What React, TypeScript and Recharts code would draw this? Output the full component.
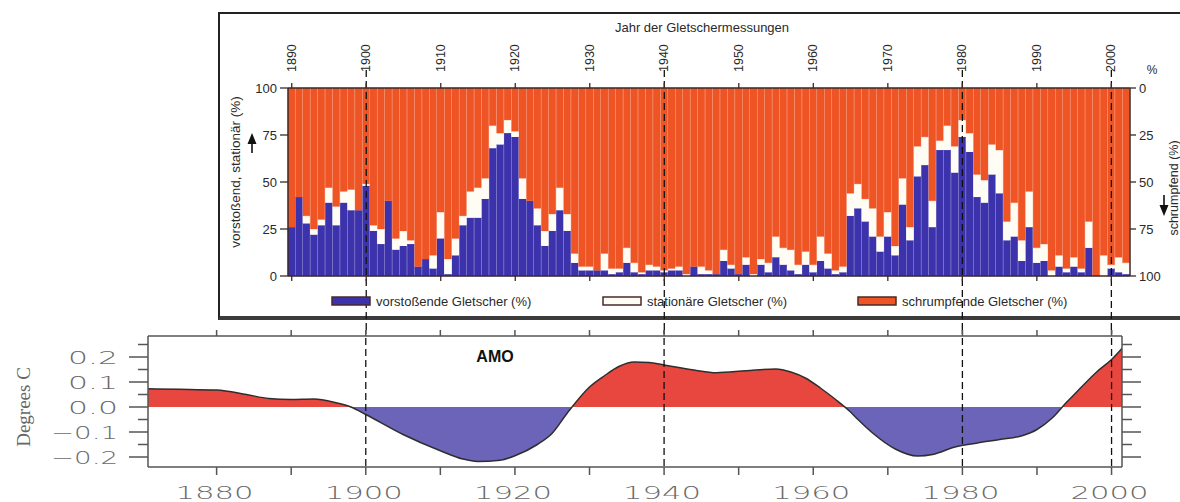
import React from "react";
import { ComposedChart, Bar, Line, XAxis, YAxis, ReferenceLine, AreaChart, Area } from "recharts";

// glacier measurements, one bar per year from 1890
const firstYear = 1890;
const advancing = [
  26, 42, 28, 22, 27, 39, 27, 39, 35, 35,
  48, 24, 17, 40, 14, 16, 17, 5, 9, 4,
  20, 1, 11, 27, 31, 31, 41, 68, 70, 76,
  74, 41, 40, 27, 16, 24, 35, 24, 7, 3,
  3, 3, 3, 1, 2, 7, 2, 1, 3, 3,
  2, 3, 3, 0, 5, 1, 1, 1, 8, 4,
  1, 6, 0, 6, 2, 10, 6, 3, 1, 6,
  2, 8, 4, 1, 2, 32, 36, 29, 21, 13,
  21, 11, 38, 19, 53, 59, 26, 67, 67, 55,
  74, 66, 42, 39, 54, 44, 19, 21, 8, 26,
  7, 8, 0, 5, 2, 5, 2, 15, 0, 0,
  4, 2, 1,
];
const stationary = [
  0, 0, 4, 3, 3, 8, 10, 6, 11, 0,
  1, 3, 8, 0, 6, 8, 2, 0, 0, 7,
  14, 8, 9, 5, 14, 16, 11, 12, 6, 7,
  3, 11, 0, 9, 8, 9, 12, 9, 5, 2,
  2, 0, 9, 3, 2, 8, 5, 1, 3, 2,
  1, 1, 2, 1, 0, 4, 2, 0, 6, 2,
  0, 4, 1, 3, 5, 11, 9, 11, 5, 7,
  4, 13, 8, 2, 3, 12, 13, 12, 15, 8,
  13, 5, 14, 7, 16, 15, 14, 5, 13, 14,
  9, 10, 12, 12, 16, 23, 10, 18, 11, 19,
  8, 9, 3, 6, 2, 5, 2, 14, 0, 11,
  2, 8, 6,
];
const decadeTicks = [1890, 1900, 1910, 1920, 1930, 1940, 1950, 1960, 1970, 1980, 1990, 2000];
const pctTicks = [0, 25, 50, 75, 100];
const markerYears = [1900, 1940, 1980, 2000];

// AMO smoothed index
const amoYears = [
  1870, 1875, 1880, 1884, 1887, 1890, 1893, 1896, 1898, 1900,
  1905, 1910, 1913, 1915, 1918, 1920, 1923, 1925, 1927, 1930,
  1932, 1934, 1936, 1938, 1940, 1944, 1947, 1951, 1955, 1957,
  1959, 1961, 1963, 1965, 1966, 1968, 1971, 1974, 1976, 1979,
  1982, 1985, 1988, 1990, 1992, 1994, 1995, 1998, 2000, 2002,
];
const amoValues = [
  0.073, 0.071, 0.068, 0.05, 0.034, 0.03, 0.032, 0.017, 0.0, -0.03,
  -0.11, -0.175, -0.208, -0.218, -0.213, -0.195, -0.15, -0.105, -0.025, 0.08,
  0.125, 0.163, 0.18, 0.178, 0.168, 0.148, 0.137, 0.145, 0.152, 0.14,
  0.115, 0.075, 0.03, -0.02, -0.05, -0.105, -0.168, -0.196, -0.19, -0.16,
  -0.144, -0.13, -0.115, -0.09, -0.045, 0.02, 0.05, 0.14, 0.19, 0.255,
];
const amoTicksX = [1880, 1890, 1900, 1910, 1920, 1930, 1940, 1950, 1960, 1970, 1980, 1990, 2000];
const amoTicksY = [-0.2, -0.15, -0.1, -0.05, 0, 0.05, 0.1, 0.15, 0.2, 0.25];

const glacierData = advancing.map((adv, i) => ({
  year: firstYear + i,
  adv,
  stat: stationary[i],
  shrink: 100 - adv - stationary[i],
}));
const amoData = amoYears.map((year, i) => ({ year, amo: amoValues[i] }));

const AX = "#3a2b27";
const BLUE = "#3c33ac";
const WHITE = "#fffcf4";
const ORANGE = "#ef5425";
const AMO_RED = "#e8473f";
const AMO_BLUE = "#6c64b8";
const SANS = "'Liberation Sans', Arial, sans-serif";
const GREY = "#555";
const LABEL_GREY = "#6a6a6a";
const WIDE = "'DejaVu Sans', sans-serif";

function TopYearTick(props: any) {
  const { x, y, payload } = props;
  const ly = y - 16;
  return (
    <g>
      <line x1={x} y1={y} x2={x} y2={y - 5} stroke={AX} strokeWidth={1.3} />
      <text x={x} y={ly} transform={`rotate(-90 ${x} ${ly})`} textAnchor="start"
        dominantBaseline="central" fontSize={12.5} fontFamily={SANS} fill="#2a2a2a">
        {payload.value}
      </text>
    </g>
  );
}

function BottomYearTick(props: any) {
  const { x, y } = props;
  return <line x1={x} y1={y} x2={x} y2={y + 5} stroke={AX} strokeWidth={1.3} />;
}

function LeftPctTick(props: any) {
  const { x, y, payload } = props;
  return (
    <g>
      <line x1={x - 8} y1={y} x2={x} y2={y} stroke={AX} strokeWidth={1.3} />
      <text x={x - 11} y={y} textAnchor="end" dominantBaseline="central" fontSize={13}
        fontFamily={SANS} fill="#2a2a2a">{payload.value}</text>
    </g>
  );
}

function RightPctTick(props: any) {
  const { x, y, payload } = props;
  return (
    <g>
      <line x1={x} y1={y} x2={x + 6} y2={y} stroke={AX} strokeWidth={1.3} />
      <text x={x + 9} y={y} textAnchor="start" dominantBaseline="central" fontSize={13}
        fontFamily={SANS} fill="#2a2a2a">{payload.value}</text>
    </g>
  );
}

const isTenth = (v: number) => Math.abs(Math.round(v * 10) - v * 10) < 1e-6;
const fmtAmo = (v: number) => (Math.abs(v) < 1e-9 ? "0.0" : v < 0 ? "\u2212" + Math.abs(v).toFixed(1) : v.toFixed(1));

function AmoLeftTick(props: any) {
  const { x, y, payload } = props;
  const major = isTenth(payload.value);
  const neg = payload.value < -1e-9;
  return (
    <g>
      <line x1={x - (major ? 19 : 10)} y1={y} x2={x} y2={y} stroke={GREY} strokeWidth={1.5} />
      {major && payload.value < 0.21 ? (
        <text x={x - 30} y={y} textAnchor="end" dominantBaseline="central" fontSize={18}
          fontWeight={200} textLength={neg ? 67 : 50} lengthAdjust="spacingAndGlyphs"
          fontFamily={WIDE} fill={LABEL_GREY}>
          {fmtAmo(payload.value)}
        </text>
      ) : null}
    </g>
  );
}

function AmoRightTick(props: any) {
  const { x, y, payload } = props;
  const major = isTenth(payload.value);
  return <line x1={x} y1={y} x2={x + (major ? 19 : 10)} y2={y} stroke={GREY} strokeWidth={1.5} />;
}

function AmoBottomTick(props: any) {
  const { x, y, payload } = props;
  return (
    <g>
      <line x1={x} y1={y} x2={x} y2={y + 8} stroke={GREY} strokeWidth={1.5} />
      {payload.value % 20 === 0 ? (
        <text x={x - 2} y={y + 32} textAnchor="middle" fontSize={18} fontWeight={200} textLength={78}
          lengthAdjust="spacingAndGlyphs" fontFamily={WIDE} fill={LABEL_GREY}>{payload.value}</text>
      ) : null}
    </g>
  );
}

function AmoTopTick(props: any) {
  const { x, y } = props;
  return <line x1={x} y1={y} x2={x} y2={y - 6} stroke={GREY} strokeWidth={1.5} />;
}

// dashed marker that runs past the plot so both panels join up
const dashTop = (p: any) => (
  <line x1={p.x1} x2={p.x2} y1={Math.min(p.y1, p.y2) - 18} y2={Math.max(p.y1, p.y2) + 80}
    stroke="#111" strokeWidth={1.3} strokeDasharray="7 4" />
);
const dashBottom = (p: any) => (
  <line x1={p.x1} x2={p.x2} y1={Math.min(p.y1, p.y2) - 20} y2={Math.max(p.y1, p.y2)}
    stroke="#111" strokeWidth={1.3} strokeDasharray="7 4" />
);

const maxAmo = Math.max(...amoValues);
const minAmo = Math.min(...amoValues);
const zeroOffset = maxAmo / (maxAmo - minAmo);

function LegendItem({ x, color, label }: { x: number; color: string; label: string }) {
  return (
    <g>
      <rect x={x} y={297} width={38} height={8} fill={color} stroke="#4a2a2a" strokeWidth={1.5} />
      <text x={x + 44} y={301} dominantBaseline="central" fontSize={13} fontFamily={SANS} fill="#2a2a2a">
        {label}
      </text>
    </g>
  );
}

export default function App() {
  return (
    <div style={{ position: "absolute", left: 0, top: 0, width: 1180, height: 502, overflow: "hidden", background: "#fff" }}>
      <div style={{ position: "absolute", left: 218, top: 12, width: 1000, height: 302, border: "2px solid #222", borderBottom: "4px solid #3c3c3c" }} />
      <div style={{ position: "absolute", left: 0, top: 0 }}>
        <ComposedChart width={1180} height={330} data={glacierData} barCategoryGap={0} barGap={0}
          margin={{ top: 70, right: 10, bottom: 44, left: 248 }}>
          <XAxis xAxisId="top" dataKey="year" orientation="top" ticks={decadeTicks} interval={0}
            height={18} tickSize={0} tickMargin={0} tickLine={false}
            axisLine={{ stroke: AX, strokeWidth: 1.5 }} tick={<TopYearTick />} />
          <XAxis xAxisId="bottom" dataKey="year" orientation="bottom" ticks={decadeTicks} interval={0}
            height={10} tickSize={0} tickMargin={0} tickLine={false}
            axisLine={{ stroke: AX, strokeWidth: 1.5 }} tick={<BottomYearTick />} />
          <YAxis yAxisId="left" domain={[0, 100]} ticks={pctTicks} interval={0} width={40}
            tickSize={0} tickMargin={0} tickLine={false} axisLine={{ stroke: AX, strokeWidth: 1.5 }}
            tick={<LeftPctTick />} />
          <YAxis yAxisId="right" orientation="right" reversed domain={[0, 100]} allowDataOverflow
            ticks={pctTicks} interval={0} width={40} tickSize={0} tickMargin={0} tickLine={false}
            axisLine={{ stroke: AX, strokeWidth: 1.5 }} tick={<RightPctTick />} />
          <Bar xAxisId="top" yAxisId="left" dataKey="adv" stackId="g" fill={BLUE}
            stroke={BLUE} strokeWidth={0.3} isAnimationActive={false} />
          <Bar xAxisId="top" yAxisId="left" dataKey="stat" stackId="g" fill={WHITE}
            isAnimationActive={false} />
          <Bar xAxisId="top" yAxisId="left" dataKey="shrink" stackId="g" fill={ORANGE}
            stroke={ORANGE} strokeWidth={0.3} isAnimationActive={false} />
          {/* shrinking share read on the inverted right scale; invisible, keeps that axis live */}
          <Line xAxisId="top" yAxisId="right" dataKey="shrink" stroke="none" dot={false}
            activeDot={false} isAnimationActive={false} />
          {markerYears.map((yr) => (
            <ReferenceLine key={yr} xAxisId="top" yAxisId="left" x={yr} shape={dashTop} />
          ))}
        </ComposedChart>
      </div>
      <div style={{ position: "absolute", left: 0, top: 330 }}>
        <AreaChart width={1180} height={172} data={amoData}
          margin={{ top: 0, right: 38, bottom: 0, left: 0 }}>
          <defs>
            <linearGradient id="amoSplit" x1="0" y1="0" x2="0" y2="1">
              <stop offset={zeroOffset} stopColor={AMO_RED} />
              <stop offset={zeroOffset} stopColor={AMO_BLUE} />
            </linearGradient>
          </defs>
          <XAxis xAxisId="b" dataKey="year" type="number" domain={[1870.8, 2001.4]} allowDataOverflow
            ticks={amoTicksX} interval={0} height={35} tickSize={0} tickMargin={0} tickLine={false}
            axisLine={{ stroke: GREY, strokeWidth: 1.5 }} tick={<AmoBottomTick />} />
          <XAxis xAxisId="t" dataKey="year" type="number" orientation="top" domain={[1870.8, 2001.4]}
            allowDataOverflow ticks={amoTicksX} interval={0} height={6} tickSize={0} tickMargin={0}
            tickLine={false} axisLine={{ stroke: GREY, strokeWidth: 1.5 }} tick={<AmoTopTick />} />
          <YAxis yAxisId="l" domain={[-0.24, 0.284]} allowDataOverflow ticks={amoTicksY} interval={0}
            width={148} tickSize={0} tickMargin={0} tickLine={false}
            axisLine={{ stroke: GREY, strokeWidth: 1.5 }} tick={<AmoLeftTick />} />
          <YAxis yAxisId="r" orientation="right" domain={[-0.24, 0.284]} allowDataOverflow ticks={amoTicksY}
            interval={0} width={20} tickSize={0} tickMargin={0} tickLine={false}
            axisLine={{ stroke: GREY, strokeWidth: 1.5 }} tick={<AmoRightTick />} />
          <Area xAxisId="b" yAxisId="l" type="monotone" dataKey="amo" stroke="#2e2e2e" strokeWidth={1.5}
            fill="url(#amoSplit)" fillOpacity={1} isAnimationActive={false} />
          {markerYears.map((yr) => (
            <ReferenceLine key={yr} xAxisId="b" yAxisId="l" x={yr} shape={dashBottom} />
          ))}
        </AreaChart>
      </div>
      <svg width={1180} height={502} style={{ position: "absolute", left: 0, top: 0, pointerEvents: "none" }}>
        <text x={702} y={27} textAnchor="middle" dominantBaseline="central" fontSize={13} fontFamily={SANS} fill="#2a2a2a">
          Jahr der Gletschermessungen
        </text>
        <text x={235} y={172} transform="rotate(-90 235 172)" textAnchor="middle" dominantBaseline="central"
          fontSize={13.5} fontFamily={SANS} fill="#2a2a2a">vorstoßend, stationär (%)</text>
        <path d="M252 153 L252 142" stroke="#111" strokeWidth={1.6} />
        <path d="M247.5 144 L256.5 144 L252 133 Z" fill="#111" />
        <text x={1152} y={70} textAnchor="middle" dominantBaseline="central" fontSize={12} fontFamily={SANS} fill="#2a2a2a">%</text>
        <text x={1174} y={188} transform="rotate(-90 1174 188)" textAnchor="middle" dominantBaseline="central"
          fontSize={12.5} fontFamily={SANS} fill="#2a2a2a">schrumpfend (%)</text>
        <path d="M1164 195 L1164 207" stroke="#111" strokeWidth={1.6} />
        <path d="M1159.5 205 L1168.5 205 L1164 216 Z" fill="#111" />
        <LegendItem x={332} color={BLUE} label="vorstoßende Gletscher (%)" />
        <LegendItem x={603} color={WHITE} label="stationäre Gletscher (%)" />
        <LegendItem x={858} color={ORANGE} label="schrumpfende Gletscher (%)" />
        <text x={495} y={356} textAnchor="middle" dominantBaseline="central" fontSize={16} fontWeight="bold"
          fontFamily={SANS} fill="#111">AMO</text>
        <text x={23} y={407} transform="rotate(-90 23 407)" textAnchor="middle" dominantBaseline="central"
          fontSize={19} fontFamily="'Liberation Serif', 'DejaVu Serif', serif" fill="#666">Degrees  C</text>
      </svg>
    </div>
  );
}
